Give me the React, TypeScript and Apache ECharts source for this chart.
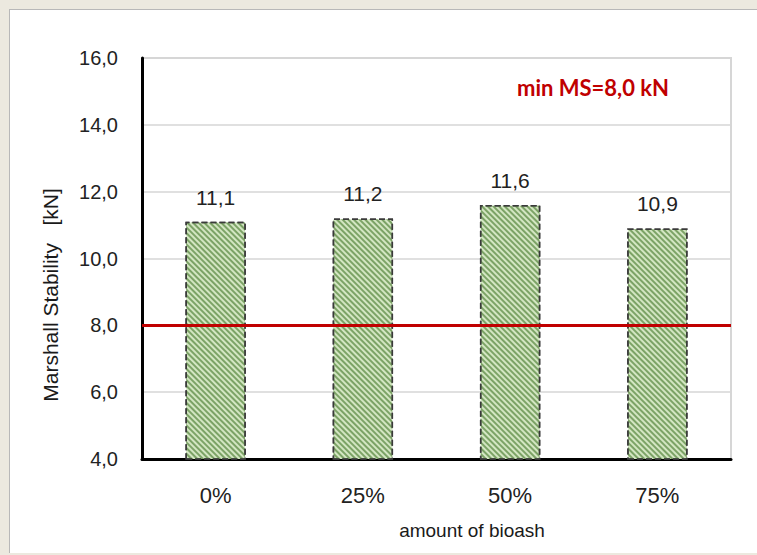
import React, { useEffect, useRef } from "react";
import * as echarts from "echarts";

const categories = ["0%", "25%", "50%", "75%"];
const stability = [11.1, 11.2, 11.6, 10.9];
const minMS = 8.0;
const yMin = 4;
const yMax = 16;
const yStep = 2;

const fmt = (v: number) => v.toFixed(1).replace(".", ",");

export default function App() {
  const ref = useRef<HTMLDivElement>(null);
  useEffect(() => {
    if (!ref.current) return;
    const chart = echarts.init(ref.current, null, { renderer: "svg" });
    chart.setOption({
      animation: false,
      grid: {
        left: 142,
        right: 26,
        top: 58,
        bottom: 96,
        show: true,
        borderColor: "#d6d6d6",
        borderWidth: 2,
        backgroundColor: "transparent",
      },
      xAxis: {
        type: "category",
        data: categories,
        axisLine: { show: true, lineStyle: { color: "#000", width: 3 } },
        axisTick: { show: false },
        axisLabel: {
          color: "#222",
          fontFamily: "Liberation Sans, Arial, sans-serif",
          fontSize: 22,
          margin: 25,
        },
      },
      yAxis: {
        type: "value",
        min: yMin,
        max: yMax,
        interval: yStep,
        axisLine: { show: true, lineStyle: { color: "#000", width: 3 } },
        axisTick: { show: false },
        splitLine: { show: true, lineStyle: { color: "#d6d6d6", width: 1.5 } },
        axisLabel: {
          color: "#222",
          fontFamily: "Liberation Sans, Arial, sans-serif",
          fontSize: 20,
          margin: 24,
          formatter: (v: number) => fmt(v),
        },
      },
      series: [
        {
          type: "bar",
          data: stability,
          barWidth: "41%",
          itemStyle: {
            color: "#d3e6c2",
            borderColor: "#3a3a3a",
            borderType: "dashed",
            borderWidth: 1.5,
            decal: {
              symbol: "rect",
              symbolSize: 1,
              dashArrayX: [[1, 0]],
              dashArrayY: [2, 2],
              rotation: Math.PI / 4,
              color: "rgba(95,140,70,0.75)",
            },
          },
          label: {
            show: true,
            position: "top",
            distance: 14,
            color: "#222",
            fontFamily: "Liberation Sans, Arial, sans-serif",
            fontSize: 21,
            formatter: (p: any) => fmt(p.value),
          },
          markLine: {
            silent: true,
            symbol: "none",
            label: { show: false },
            lineStyle: { color: "#c00000", width: 3, type: "solid" },
            data: [{ yAxis: minMS }],
          },
        },
      ],
      graphic: [
        {
          type: "text",
          x: 50,
          y: 295,
          rotation: Math.PI / 2,
          style: {
            text: "Marshall Stability   [kN]",
            fill: "#1a1a1a",
            font: "21px 'Liberation Sans', Arial, sans-serif",
            textAlign: "center",
            textVerticalAlign: "middle",
          },
        },
        {
          type: "text",
          x: 472,
          y: 530,
          style: {
            text: "amount of bioash",
            fill: "#1a1a1a",
            font: "19px 'Liberation Sans', Arial, sans-serif",
            textAlign: "center",
            textVerticalAlign: "middle",
          },
        },
        {
          type: "text",
          x: 593,
          y: 87,
          style: {
            text: "min MS=" + fmt(minMS) + " kN",
            fill: "#c00000",
            font: "bold 22px Lato, 'Open Sans', sans-serif",
            textAlign: "center",
            textVerticalAlign: "middle",
          },
        },
      ],
    });
    return () => chart.dispose();
  }, []);

  return (
    <div
      style={{
        position: "absolute",
        left: 0,
        top: 0,
        width: 757,
        height: 555,
        background: "#ece9df",
        overflow: "hidden",
      }}
    >
      <div
        style={{
          position: "absolute",
          left: 9,
          top: 9,
          width: 760,
          height: 543,
          background: "#ffffff",
          borderLeft: "1.5px solid #b8b8b8",
          borderTop: "1.5px solid #b8b8b8",
        }}
      />
      <div
        ref={ref}
        style={{ position: "absolute", left: 0, top: 0, width: 757, height: 555 }}
      />
    </div>
  );
}
